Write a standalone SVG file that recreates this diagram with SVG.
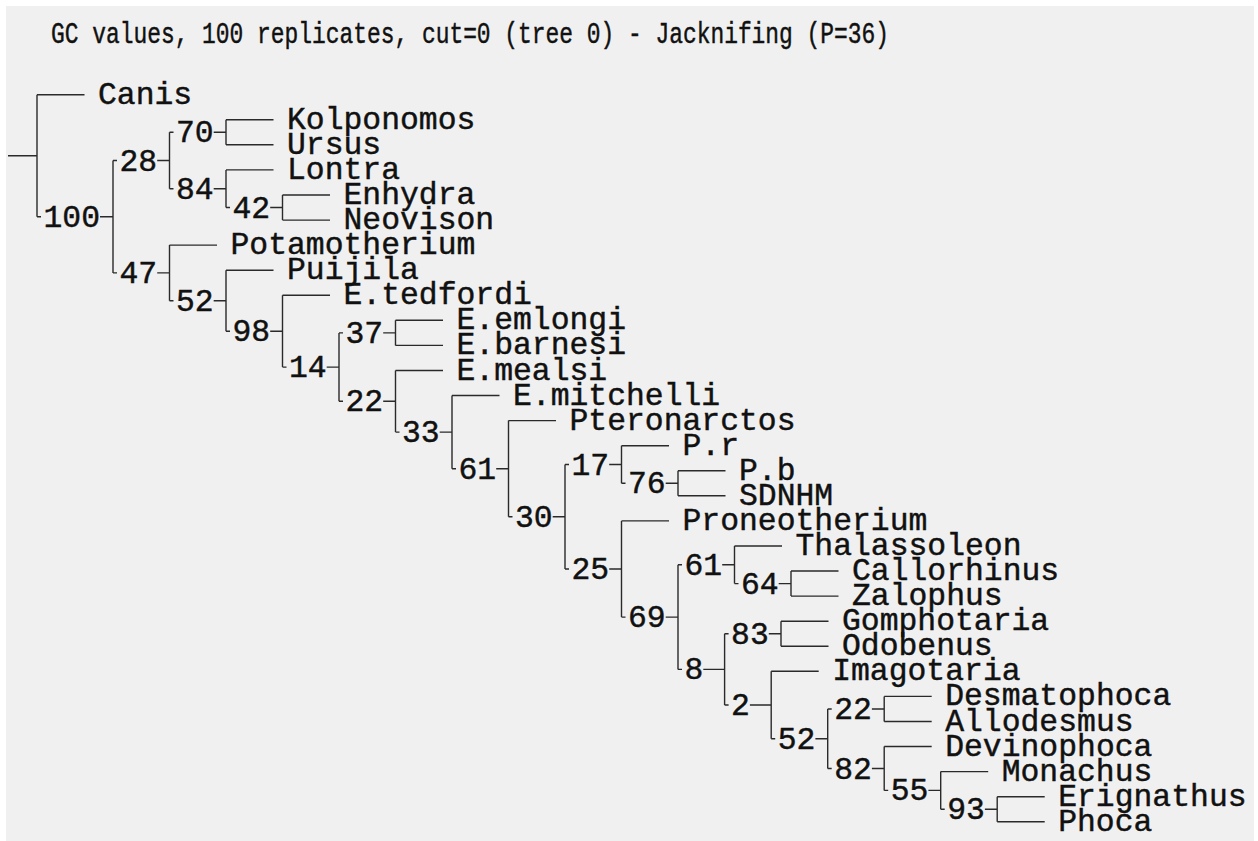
<svg xmlns="http://www.w3.org/2000/svg" width="1258" height="841" viewBox="0 0 1258 841">
  <style>
    .bg { fill: #f0f0f0; }
    .br { fill: none; stroke: #2a2a2a; stroke-width: 1.4; }
    .lbl { font-family: "Liberation Mono", "DejaVu Sans Mono", monospace; font-size: 31.4px; fill: #111; stroke: #111; stroke-width: 0.45; }
    .ttl { font-family: "Liberation Mono", "DejaVu Sans Mono", monospace; font-size: 29.5px; fill: #111; stroke: #111; stroke-width: 0.45; }
  </style>
  <rect width="1258" height="841" fill="#ffffff"/>
  <rect class="bg" x="6" y="6" width="1248" height="835"/>

  <text class="ttl" x="51" y="43" textLength="838" lengthAdjust="spacingAndGlyphs">GC values, 100 replicates, cut=0 (tree 0) - Jacknifing (P=36)</text>

  <!-- branches: root stub, vertical joins, ticks, label dashes, terminal branches -->
  <g id="connectors" class="br">
    <path d="M8,155.7H37 M37,94.7V216.7 M37,94.7H84.5"/>
    <path d="M37,216.7h4 M100,216.7H113 M113,160.5V272.9"/>
    <path d="M113,160.5h4 M157.2,160.5H169.5 M169.5,132.3V188.7"/>
    <path d="M169.5,132.3h4 M213.7,132.3H226 M226,119.8V144.8 M226,119.8H273.5 M226,144.8H273.5"/>
    <path d="M169.5,188.7h4 M213.7,188.7H226 M226,169.9V207.5 M226,169.9H273.5"/>
    <path d="M226,207.5h4 M270.2,207.5H282.5 M282.5,195V220.1 M282.5,195H330 M282.5,220.1H330"/>
    <path d="M113,272.9h4 M157.2,272.9H169.5 M169.5,245.1V300.7 M169.5,245.1H217"/>
    <path d="M169.5,300.7h4 M213.7,300.7H226 M226,270.2V331.2 M226,270.2H273.5"/>
    <path d="M226,331.2h4 M270.2,331.2H282.5 M282.5,295.3V367.1 M282.5,295.3H330"/>
    <path d="M282.5,367.1h4 M326.7,367.1H339 M339,332.9V401.3"/>
    <path d="M339,332.9h4 M383.2,332.9H395.5 M395.5,320.3V345.4 M395.5,320.3H443 M395.5,345.4H443"/>
    <path d="M339,401.3h4 M383.2,401.3H395.5 M395.5,370.5V432.1 M395.5,370.5H443"/>
    <path d="M395.5,432.1h4 M439.7,432.1H452 M452,395.5V468.7 M452,395.5H499.5"/>
    <path d="M452,468.7h4 M496.2,468.7H508.5 M508.5,420.6V516.8 M508.5,420.6H556"/>
    <path d="M508.5,516.8h4 M552.7,516.8H565 M565,464.5V569"/>
    <path d="M565,464.5h4 M609.2,464.5H621.5 M621.5,445.7V483.3 M621.5,445.7H669"/>
    <path d="M621.5,483.3h4 M665.7,483.3H678 M678,470.8V495.8 M678,470.8H725.5 M678,495.8H725.5"/>
    <path d="M565,569h4 M609.2,569H621.5 M621.5,520.9V617.1 M621.5,520.9H669"/>
    <path d="M621.5,617.1h4 M665.7,617.1H678 M678,564.8V669.4"/>
    <path d="M678,564.8h4 M722.2,564.8H734.5 M734.5,546V583.6 M734.5,546H782"/>
    <path d="M734.5,583.6h4 M778.7,583.6H791 M791,571V596.1 M791,571H838.5 M791,596.1H838.5"/>
    <path d="M678,669.4h4 M703.3,669.4H724.6 M724.6,633.7V705"/>
    <path d="M724.6,633.7h4 M768.8,633.7H781 M781,621.2V646.2 M781,621.2H828.5 M781,646.2H828.5"/>
    <path d="M724.6,705h4 M749.9,705H771.2 M771.2,671.3V738.7 M771.2,671.3H818.7"/>
    <path d="M771.2,738.7h4 M815.4,738.7H827.7 M827.7,709V768.5"/>
    <path d="M827.7,709h4 M871.9,709H884.2 M884.2,696.4V721.5 M884.2,696.4H931.7 M884.2,721.5H931.7"/>
    <path d="M827.7,768.5h4 M871.9,768.5H884.2 M884.2,746.5V790.4 M884.2,746.5H931.7"/>
    <path d="M884.2,790.4h4 M928.4,790.4H940.7 M940.7,771.6V809.2 M940.7,771.6H988.2"/>
    <path d="M940.7,809.2h4 M984.9,809.2H997.2 M997.2,796.7V821.7 M997.2,796.7H1044.7 M997.2,821.7H1044.7"/>
  </g>

  <!-- support values on internal nodes -->
  <g id="n100"><text class="lbl" x="43.5" y="226.7">100</text></g>
  <g id="n28"><text class="lbl" x="119.5" y="170.5">28</text></g>
  <g id="n70"><text class="lbl" x="176" y="142.3">70</text></g>
  <g id="n84"><text class="lbl" x="176" y="198.7">84</text></g>
  <g id="n42"><text class="lbl" x="232.5" y="217.5">42</text></g>
  <g id="n47"><text class="lbl" x="119.5" y="282.9">47</text></g>
  <g id="n52a"><text class="lbl" x="176" y="310.7">52</text></g>
  <g id="n98"><text class="lbl" x="232.5" y="341.2">98</text></g>
  <g id="n14"><text class="lbl" x="289" y="377.1">14</text></g>
  <g id="n37"><text class="lbl" x="345.5" y="342.9">37</text></g>
  <g id="n22a"><text class="lbl" x="345.5" y="411.3">22</text></g>
  <g id="n33"><text class="lbl" x="402" y="442.1">33</text></g>
  <g id="n61a"><text class="lbl" x="458.5" y="478.7">61</text></g>
  <g id="n30"><text class="lbl" x="515" y="526.8">30</text></g>
  <g id="n17"><text class="lbl" x="571.5" y="474.5">17</text></g>
  <g id="n76"><text class="lbl" x="628" y="493.3">76</text></g>
  <g id="n25"><text class="lbl" x="571.5" y="579">25</text></g>
  <g id="n69"><text class="lbl" x="628" y="627.1">69</text></g>
  <g id="n61b"><text class="lbl" x="684.5" y="574.8">61</text></g>
  <g id="n64"><text class="lbl" x="741" y="593.6">64</text></g>
  <g id="n8"><text class="lbl" x="684.5" y="679.4">8</text></g>
  <g id="n83"><text class="lbl" x="731.1" y="643.7">83</text></g>
  <g id="n2"><text class="lbl" x="731.1" y="715">2</text></g>
  <g id="n52b"><text class="lbl" x="777.7" y="748.7">52</text></g>
  <g id="n22b"><text class="lbl" x="834.2" y="719">22</text></g>
  <g id="n82"><text class="lbl" x="834.2" y="778.5">82</text></g>
  <g id="n55"><text class="lbl" x="890.7" y="800.4">55</text></g>
  <g id="n93"><text class="lbl" x="947.2" y="819.2">93</text></g>

  <!-- terminal taxa -->
  <g id="t-canis"><text class="lbl" x="98" y="103.7">Canis</text></g>
  <g id="t-kolponomos"><text class="lbl" x="287" y="128.8">Kolponomos</text></g>
  <g id="t-ursus"><text class="lbl" x="287" y="153.8">Ursus</text></g>
  <g id="t-lontra"><text class="lbl" x="287" y="178.9">Lontra</text></g>
  <g id="t-enhydra"><text class="lbl" x="343.5" y="204">Enhydra</text></g>
  <g id="t-neovison"><text class="lbl" x="343.5" y="229.1">Neovison</text></g>
  <g id="t-potamotherium"><text class="lbl" x="230.5" y="254.1">Potamotherium</text></g>
  <g id="t-puijila"><text class="lbl" x="287" y="279.2">Puijila</text></g>
  <g id="t-etedfordi"><text class="lbl" x="343.5" y="304.3">E.tedfordi</text></g>
  <g id="t-eemlongi"><text class="lbl" x="456.5" y="329.3">E.emlongi</text></g>
  <g id="t-ebarnesi"><text class="lbl" x="456.5" y="354.4">E.barnesi</text></g>
  <g id="t-emealsi"><text class="lbl" x="456.5" y="379.5">E.mealsi</text></g>
  <g id="t-emitchelli"><text class="lbl" x="513" y="404.5">E.mitchelli</text></g>
  <g id="t-pteronarctos"><text class="lbl" x="569.5" y="429.6">Pteronarctos</text></g>
  <g id="t-pr"><text class="lbl" x="682.5" y="454.7">P.r</text></g>
  <g id="t-pb"><text class="lbl" x="739" y="479.8">P.b</text></g>
  <g id="t-sdnhm"><text class="lbl" x="739" y="504.8">SDNHM</text></g>
  <g id="t-proneotherium"><text class="lbl" x="682.5" y="529.9">Proneotherium</text></g>
  <g id="t-thalassoleon"><text class="lbl" x="795.5" y="555">Thalassoleon</text></g>
  <g id="t-callorhinus"><text class="lbl" x="852" y="580">Callorhinus</text></g>
  <g id="t-zalophus"><text class="lbl" x="852" y="605.1">Zalophus</text></g>
  <g id="t-gomphotaria"><text class="lbl" x="842" y="630.2">Gomphotaria</text></g>
  <g id="t-odobenus"><text class="lbl" x="842" y="655.2">Odobenus</text></g>
  <g id="t-imagotaria"><text class="lbl" x="832.2" y="680.3">Imagotaria</text></g>
  <g id="t-desmatophoca"><text class="lbl" x="945.2" y="705.4">Desmatophoca</text></g>
  <g id="t-allodesmus"><text class="lbl" x="945.2" y="730.5">Allodesmus</text></g>
  <g id="t-devinophoca"><text class="lbl" x="945.2" y="755.5">Devinophoca</text></g>
  <g id="t-monachus"><text class="lbl" x="1001.7" y="780.6">Monachus</text></g>
  <g id="t-erignathus"><text class="lbl" x="1058.2" y="805.7">Erignathus</text></g>
  <g id="t-phoca"><text class="lbl" x="1058.2" y="830.7">Phoca</text></g>
</svg>
